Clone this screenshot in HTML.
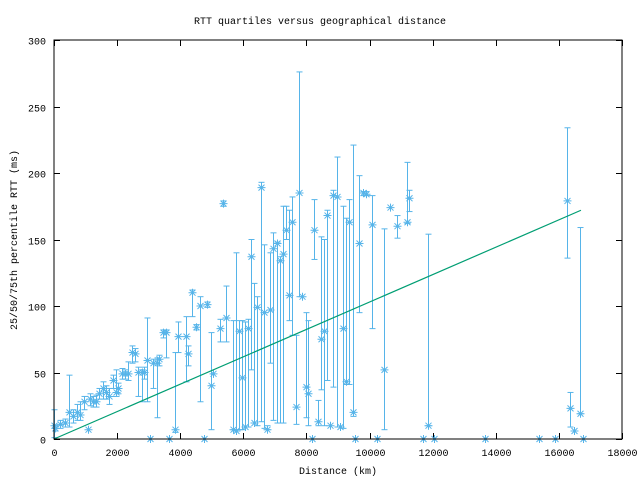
<!DOCTYPE html>
<html><head><meta charset="utf-8"><style>
body{margin:0;background:#fff;width:640px;height:480px;overflow:hidden}
svg text{font-family:"Liberation Mono","DejaVu Sans Mono",monospace;font-size:10px;fill:#000}
</style></head><body>
<svg id="chart" width="640" height="480" viewBox="0 0 640 480" xmlns="http://www.w3.org/2000/svg">
<rect width="640" height="480" fill="#fff"/>
<text x="320" y="24" text-anchor="middle">RTT quartiles versus geographical distance</text>
<text x="338" y="474" text-anchor="middle">Distance (km)</text>
<text x="17" y="240" text-anchor="middle" transform="rotate(-90 17 240)">25/50/75th percentile RTT (ms)</text>
<g id="grid"></g>
<g id="series"></g>
<rect x="54" y="40" width="568" height="399" fill="none" stroke="#000" stroke-width="1"/>
</svg>
<script>
const xTicks=[0,2000,4000,6000,8000,10000,12000,14000,16000,18000];
const yTicks=[0,50,100,150,200,250,300];
const km=[0,30,190,350,480,600,730,820,950,1080,1140,1240,1330,1430,1550,1650,1750,1870,1970,2030,2150,2250,2350,2470,2570,2660,2790,2850,2950,3040,3140,3260,3330,3450,3550,3640,3830,3930,4180,4250,4370,4500,4630,4750,4850,4970,5040,5260,5360,5450,5670,5780,5860,5960,6050,6150,6240,6340,6430,6560,6650,6750,6840,6940,7060,7160,7260,7350,7450,7540,7670,7760,7860,7990,8050,8180,8240,8370,8460,8560,8650,8750,8840,8970,9060,9160,9250,9350,9480,9540,9670,9790,9890,10080,10240,10460,10650,10870,11180,11250,11700,11850,12040,13660,15370,15880,16250,16350,16480,16670,16770];
const med=[10,8,11,12,20,17,20,18,28,7,30,28,28,34,38,35,32,44,35,38,49,49,49,65,64,50,50,50,59,0,57,57,60,80,80,0,7,77,77,64,110,84,100,0,101,40,49,83,177,91,7,6,81,46,9,83,137,12,99,189,95,7,97,143,147,134,139,157,108,163,24,185,107,39,34,0,157,13,75,81,168,10,183,182,9,83,43,163,20,0,147,185,184,161,0,52,174,160,163,181,0,10,0,0,0,0,179,23,6,19,0];
const q1=[1,6,8,9,9,12,14,14,22,7,25,24,24,30,30,30,26,38,32,34,45,45,44,57,58,32,28,45,28,0,38,16,55,76,61,0,5,65,43,55,92,82,28,0,99,7,49,73,175,73,7,6,7,7,9,9,52,12,10,13,8,7,57,14,12,12,12,150,89,78,11,107,107,16,10,0,135,10,37,10,44,10,39,9,9,8,41,41,17,0,95,183,183,83,0,7,174,151,162,171,0,10,0,0,0,0,136,9,6,19,0];
const q3=[22,10,14,15,48,22,26,28,32,7,34,32,33,38,43,40,38,48,52,42,53,52,58,70,68,54,52,54,91,0,60,61,63,82,82,0,65,88,92,70,112,86,107,0,103,80,49,90,179,115,89,140,89,89,88,90,150,117,107,193,146,10,140,155,148,137,175,175,172,182,78,276,107,95,89,0,180,29,152,150,172,10,187,212,9,175,166,180,221,0,198,186,186,183,0,158,174,168,208,187,0,154,0,0,0,0,234,35,6,159,0];
const fitKm=[0,16700];
const fitMs=[0,172];

const X0=54,X1=622,Y0=439,Y1=40;
const sx=v=>X0+(v-0)/(18000-0)*(X1-X0);
const sy=v=>Y0-(v-0)/(300-0)*(Y0-Y1);
const NS='http://www.w3.org/2000/svg';
function mk(tag,attrs,parent){const e=document.createElementNS(NS,tag);for(const k in attrs)e.setAttribute(k,attrs[k]);parent.appendChild(e);return e;}
const grid=document.getElementById('grid');
xTicks.forEach(t=>{
  const x=Math.round(sx(t))+0.5;
  const l1=mk('line',{x1:x,x2:x,y1:Y0,y2:Y0-6,stroke:'#000'},grid);
  
  
  const l2=mk('line',{x1:x,x2:x,y1:Y1,y2:Y1+6,stroke:'#000'},grid);
  
  
  const tx=mk('text',{x:x,y:456,'text-anchor':'middle'},grid);
  tx.textContent=t;
  
  
});
yTicks.forEach(t=>{
  const y=Math.round(sy(t))+0.5;
  const l1=mk('line',{x1:X0,x2:X0+6,y1:y,y2:y,stroke:'#000'},grid);
  
  
  const l2=mk('line',{x1:X1,x2:X1-6,y1:y,y2:y,stroke:'#000'},grid);
  
  
  const tx=mk('text',{x:46,y:y+4,'text-anchor':'end'},grid);
  tx.textContent=t;
  
  
});
const g=document.getElementById('series');
const C='#56b4e9';
km.forEach((k,i)=>{
  const x=Math.round(sx(k))+0.5,ym=sy(med[i]),yl=sy(q1[i]),yh=sy(q3[i]);
  const grp=mk('g',{},g);
  
  
  if(q3[i]!==q1[i]){
    mk('line',{x1:x,x2:x,y1:yl,y2:yh,stroke:C,'stroke-width':1},grp);
    mk('line',{x1:x-3,x2:x+3,y1:yl,y2:yl,stroke:C,'stroke-width':1},grp);
    mk('line',{x1:x-3,x2:x+3,y1:yh,y2:yh,stroke:C,'stroke-width':1},grp);
  }
  const s=4;
  mk('path',{d:`M${x-s},${ym}H${x+s}M${x},${ym-s}V${ym+s}M${x-s+1},${ym-s+1}L${x+s-1},${ym+s-1}M${x-s+1},${ym+s-1}L${x+s-1},${ym-s+1}`,stroke:C,'stroke-width':1,fill:'none'},grp);
});
const fit=mk('polyline',{points:fitKm.map((k,i)=>sx(k)+','+sy(fitMs[i])).join(' '),stroke:'#009e73','stroke-width':1.2,fill:'none'},g);


</script>
</body></html>
